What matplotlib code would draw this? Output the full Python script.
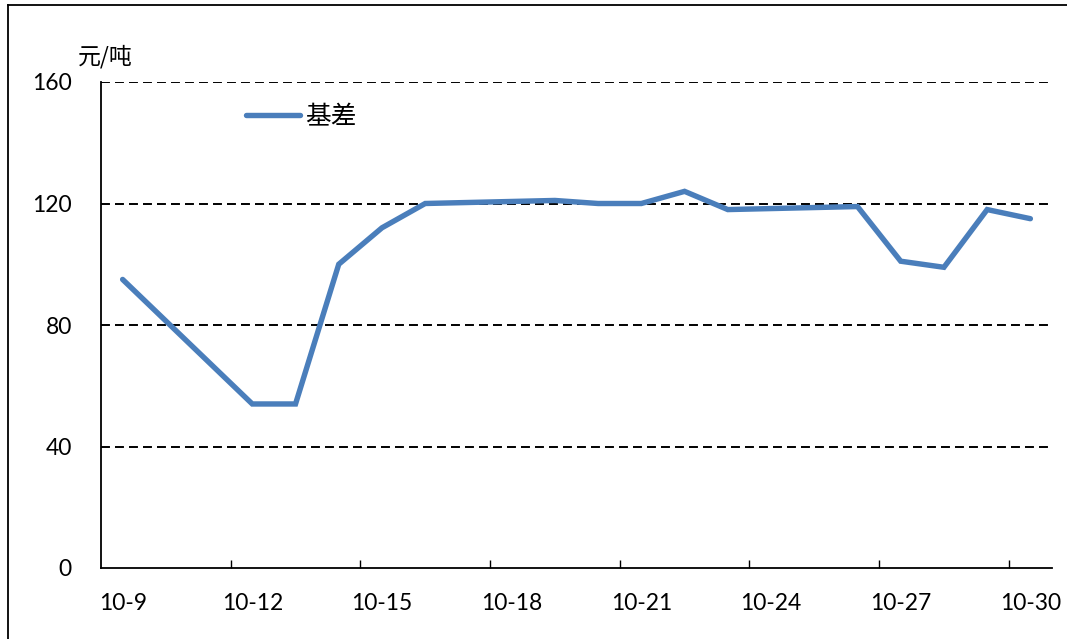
import matplotlib.pyplot as plt
from matplotlib.lines import Line2D

# === Dati (ottobre, giorni lavorativi) ===
days = [9, 12, 13, 14, 15, 16, 19, 20, 21, 22, 23, 26, 27, 28, 29, 30]
basis = [95, 54, 54, 100, 112, 120, 121, 120, 120, 124, 118, 119, 101, 99, 118, 115]
tick_days = [9, 12, 15, 18, 21, 24, 27, 30]
tick_labels = [f"10-{d}" for d in tick_days]
y_ticks = [0, 40, 80, 120, 160]

plt.rcParams['font.family'] = ['Lato', 'Noto Sans CJK SC', 'DejaVu Sans']
cjk = ['Noto Sans CJK SC', 'DejaVu Sans']

fig = plt.figure(figsize=(10.67, 6.39), dpi=100)
ax = fig.add_axes([101 / 1067, 1 - 568 / 639, 951 / 1067, 486 / 639])

ax.plot(days, basis, color='#4A7EBB', lw=3.9, solid_joinstyle='miter',
        solid_capstyle='round', label='基差', zorder=3)

# assi
ax.set_xlim(8.5, 30.5)
ax.set_ylim(0, 160)
ax.set_xticks(tick_days)
ax.set_xticklabels(tick_labels)
ax.set_xticks([d - 0.5 for d in tick_days[1:]], minor=True)
ax.set_yticks(y_ticks)
ax.tick_params(axis='x', which='major', length=0, pad=18, labelsize=16.5)
ax.tick_params(axis='x', which='minor', direction='in', length=6, width=1, color='black')
ax.tick_params(axis='y', length=0, pad=21, labelsize=16.5)

for s in ['top', 'right']:
    ax.spines[s].set_visible(False)
for s in ['left', 'bottom']:
    ax.spines[s].set_linewidth(1.3)
    ax.spines[s].set_color('black')

# griglia tratteggiata
for yv in y_ticks[1:]:
    ax.axhline(yv, color='black', lw=1.4, dashes=(4.6, 2.6), zorder=1)

leg = ax.legend(loc='center left', bbox_to_anchor=(0.152, 0.928), frameon=False,
                prop={'family': cjk, 'size': 18.5}, handlelength=2.1,
                handletextpad=0.2, borderpad=0, borderaxespad=0)

fig.text(78 / 1067, 1 - 57 / 639, '元/吨', family=cjk, fontsize=16.5,
         ha='left', va='center')

# bordo area grafico
fig.add_artist(Line2D([8 / 1067, 8 / 1067], [0, 1 - 5 / 639], transform=fig.transFigure,
                      color='black', lw=1.3))
fig.add_artist(Line2D([8 / 1067, 1], [1 - 5 / 639, 1 - 5 / 639], transform=fig.transFigure,
                      color='black', lw=1.3))

fig.savefig('out.png', dpi=100)
